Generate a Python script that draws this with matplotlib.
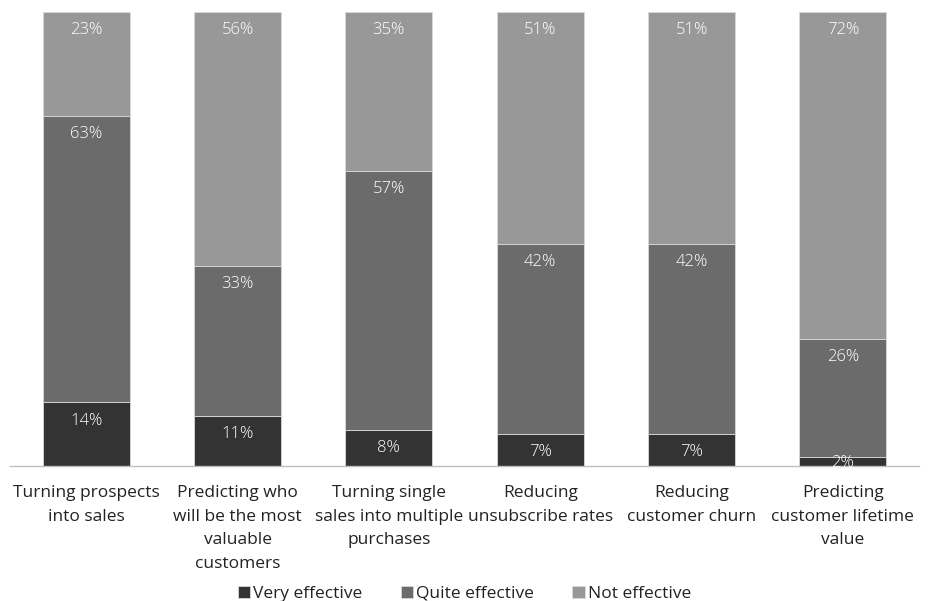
import numpy as np
import matplotlib.pyplot as plt

categories = ['Turning prospects\ninto sales',
              'Predicting who\nwill be the most\nvaluable\ncustomers',
              'Turning single\nsales into multiple\npurchases',
              'Reducing\nunsubscribe rates',
              'Reducing\ncustomer churn',
              'Predicting\ncustomer lifetime\nvalue']
very_effective = [14, 11, 8, 7, 7, 2]
quite_effective = [63, 33, 57, 42, 42, 26]
not_effective = [23, 56, 35, 51, 51, 72]

series = ['Very effective', 'Quite effective', 'Not effective']
colors = ['#333333', '#6b6b6b', '#989898']

plt.rcParams['font.family'] = ['Open Sans', 'DejaVu Sans']

fig = plt.figure(figsize=(9.29, 6.01), dpi=100)
ax = fig.add_axes([0.0113, 0.2246, 0.9775, 0.7554])

x = np.arange(len(categories))
bottom = np.zeros(len(categories))
px_per_unit = 0.7554 * 601 / 100
for name, vals, col in zip(series, [very_effective, quite_effective, not_effective], colors):
    vals = np.array(vals, dtype=float)
    ax.bar(x, vals, 0.575, bottom=bottom, color=col, label=name,
           edgecolor='#d9d9d9', linewidth=0.6)
    for xi, b, v in zip(x, bottom, vals):
        # label near the top of each segment, kept inside short segments
        off = min(13, v * px_per_unit * 0.72 / 2 + 1)
        ax.annotate(f'{int(v)}%', (xi, b + v), xytext=(0, -off), textcoords='offset points',
                    ha='center', va='center', color='white', fontsize=12,
                    fontweight='light', annotation_clip=False)
    bottom += vals

ax.set_xlim(-0.5, len(categories) - 0.5)
ax.set_ylim(0, 100)
ax.set_yticks([])
ax.set_xticks(x)
ax.set_xticklabels(categories, fontsize=12.5, color='#222222', linespacing=1.62)
ax.tick_params(axis='x', length=0, pad=14)
for s in ['top', 'left', 'right']:
    ax.spines[s].set_visible(False)
ax.spines['bottom'].set_color('#bfbfbf')
ax.spines['bottom'].set_linewidth(1)

fig.legend(loc='center', bbox_to_anchor=(0.5, 0.012), ncol=3, frameon=False,
           fontsize=12.5, handlelength=0.7, handleheight=0.7, handletextpad=0.2,
           columnspacing=2.2, labelcolor='#222222')

fig.savefig('out.png', dpi=100)
